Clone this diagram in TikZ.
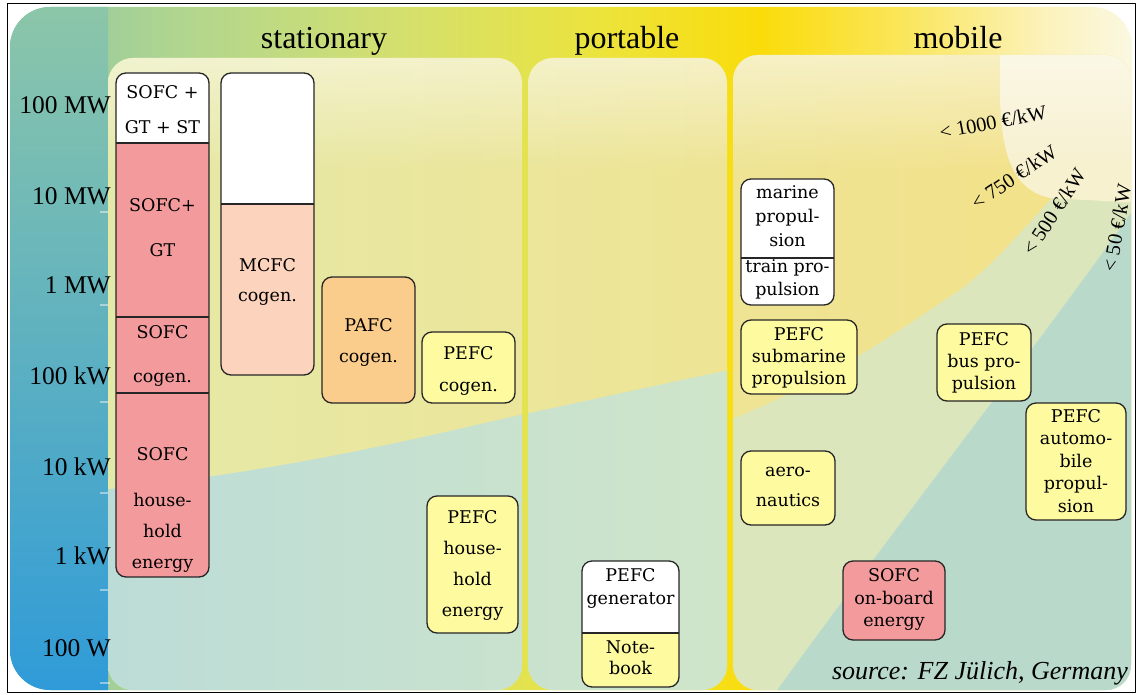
\documentclass[tikz,border=0pt]{standalone}
\usepackage{fontspec}
\setmainfont{Liberation Serif}
\newfontfamily\cellfont{DejaVu Serif}
\usetikzlibrary{positioning}
\usetikzlibrary{fadings}

\definecolor{sofcred}{HTML}{F39A9C}
\definecolor{mcfcpink}{HTML}{FCD3BC}
\definecolor{pafcorange}{HTML}{FBCD8C}
\definecolor{pefcyellow}{HTML}{FDFA9F}
\definecolor{bandA}{HTML}{8FC7A6}
\definecolor{bandB}{HTML}{B4D78C}
\definecolor{bandC}{HTML}{D4E06E}
\definecolor{bandD}{HTML}{ECE43C}
\definecolor{bandE}{HTML}{FADC0A}
\definecolor{bandF}{HTML}{FAE65A}
\definecolor{bandG}{HTML}{FCF2BE}
\definecolor{bandH}{HTML}{FAF8E1}
\definecolor{stripA}{HTML}{8CC6A9}
\definecolor{stripB}{HTML}{5FB2C9}
\definecolor{stripC}{HTML}{2F9BD8}
\definecolor{panelA}{HTML}{E5E9A8}
\definecolor{panelB}{HTML}{F4E187}
\definecolor{lowA}{HTML}{BCDCD7}
\definecolor{lowB}{HTML}{CFE5CA}
\definecolor{midgreen}{HTML}{DCE6BD}
\definecolor{bluegreen}{HTML}{B9D9CB}
\definecolor{cream}{HTML}{F7F1CF}

\pgfdeclarehorizontalshading{topband}{100bp}{color(0bp)=(bandA); color(25bp)=(bandA);
  color(33.5bp)=(bandB); color(42.4bp)=(bandC); color(51.3bp)=(bandD); color(58.4bp)=(bandE);
  color(64.7bp)=(bandF); color(71.3bp)=(bandG); color(75bp)=(bandH); color(100bp)=(bandH)}

\tikzset{
  cell/.style={draw=black!85, line width=1.3pt, rounded corners=10},
  celltxt/.style={font=\cellfont\fontsize{17.5}{#1}\selectfont, align=center, inner sep=0pt},
  axislbl/.style={font=\fontsize{25.5}{26}\selectfont, anchor=east, inner sep=0pt},
  head/.style={font=\fontsize{32}{32}\selectfont, anchor=base, inner sep=0pt},
  cost/.style={font=\fontsize{20.5}{21}\selectfont, inner sep=0pt},
}

\begin{document}
\begin{tikzpicture}[x=1pt, y=-1pt, line join=round]
            \useasboundingbox (0,0) rectangle (1137,695);

            % frame and coloured ground
            \draw[line width=1.5pt] (7.5,3.5) rectangle (1135.5,692.5);
            \shade[shading=topband, rounded corners=40] (10,7) rectangle (1132,690);
            \begin{scope}
              \clip[rounded corners=40] (10,7) rectangle (1132,690);
              \shade[top color=stripA, middle color=stripB, bottom color=stripC] (10,7) rectangle (108,690);
            \end{scope}
            \foreach \ty in {212,305,402,493,590,683}
              \draw[white, opacity=.45, line width=2pt] (100,\ty) -- (110,\ty);

            % the three panels
            \begin{scope}
              \clip[rounded corners=25] (108,58) rectangle (522,690) (528,58) rectangle (727,690) (733,55) rectangle (1131,690);
              \shade[left color=panelA, right color=panelB] (100,50) rectangle (1140,700);
              \shade[left color=lowA, right color=lowB] (100,490) .. controls (300,470) and (450,430) .. (525,414)
                .. controls (600,398) and (680,380) .. (730,370) -- (730,700) -- (100,700) -- cycle;
              \fill[midgreen] (730,420) .. controls (830,380) and (900,330) .. (960,290)
                .. controls (1000,260) and (1030,220) .. (1060,190) -- (1140,190) -- (1140,700) -- (730,700) -- cycle;
              \fill[bluegreen] (1140,200) .. controls (1050,330) and (900,520) .. (770,700) -- (1140,700) -- cycle;
              \fill[cream] (1000,50) -- (1000,100) .. controls (1002,160) and (1015,190) .. (1050,198) -- (1140,203) -- (1140,50) -- cycle;
              \fill[white, opacity=.5, path fading=south] (100,50) rectangle (1140,170);
            \end{scope}

            % headings
            \node[head] (stat) at (324,49) {stationary};
            \node[head] (port) at (627,49) {portable};
            \node[head] (mob) at (958,49) {mobile};

            % power scale
            \node[axislbl] (p100mw) at (111,105) {100 MW};
            \node[axislbl] (p10mw) at (111,196) {10 MW};
            \node[axislbl] (p1mw) at (111,285) {1 MW};
            \node[axislbl] (p100kw) at (111,376) {100 kW};
            \node[axislbl] (p10kw) at (111,467) {10 kW};
            \node[axislbl] (p1kw) at (111,556) {1 kW};
            \node[axislbl] (p100w) at (111,648) {100 W};

            % SOFC column
            \begin{scope}
              \clip[rounded corners=10] (116,73) rectangle (209,577);
              \fill[sofcred] (116,73) rectangle (209,577);
              \fill[white] (116,73) rectangle (209,143);
            \end{scope}
            \draw[cell] (116,73) rectangle (209,577);
            \draw[black!85, line width=1.3pt] (116,143) -- (209,143) (116,317) -- (209,317) (116,393) -- (209,393);
            \node[celltxt=35] (sofcst) at (162.5,109.5) {SOFC +\\GT + ST};
            \node[celltxt=45] (sofcgt) at (162.5,227.5) {SOFC+\\GT};
            \node[celltxt=44] (sofccogen) at (162.5,356) {SOFC\\cogen.};
            \node[celltxt=31] (sofchouse) at (162.5,510) {SOFC\\[15pt]house-\\hold\\energy};

            % MCFC
            \begin{scope}
              \clip[rounded corners=10] (221,73) rectangle (314,375);
              \fill[mcfcpink] (221,73) rectangle (314,375);
              \fill[white] (221,73) rectangle (314,204);
            \end{scope}
            \draw[cell] (221,73) rectangle (314,375);
            \draw[black!85, line width=1.3pt] (221,204) -- (314,204);
            \node[celltxt=30] (mcfc) at (267.5,282) {MCFC\\cogen.};

            % PAFC and PEFC (stationary)
            \draw[cell, fill=pafcorange] (322,277) rectangle (415,403);
            \node[celltxt=31] (pafc) at (368.5,342.5) {PAFC\\cogen.};
            \draw[cell, fill=pefcyellow] (422,332) rectangle (515,403);
            \node[celltxt=32] (pefccogen) at (468.5,371) {PEFC\\cogen.};
            \draw[cell, fill=pefcyellow] (427,496) rectangle (518,633);
            \node[celltxt=31] (pefchouse) at (472.5,565.5) {PEFC\\house-\\hold\\energy};

            % portable
            \begin{scope}
              \clip[rounded corners=10] (582,561) rectangle (679,687);
              \fill[pefcyellow] (582,561) rectangle (679,687);
              \fill[white] (582,561) rectangle (679,633);
            \end{scope}
            \draw[cell] (582,561) rectangle (679,687);
            \draw[black!85, line width=1.3pt] (582,633) -- (679,633);
            \node[celltxt=23] (pefcgen) at (630.5,588.5) {PEFC\\generator};
            \node[celltxt=21] (notebook) at (630.5,657.5) {Note-\\book};

            % mobile
            \draw[cell, fill=white] (741,179) rectangle (834,305);
            \draw[black!85, line width=1.3pt] (741,258) -- (834,258);
            \node[celltxt=24] (marine) at (787.5,216) {marine\\propul-\\sion};
            \node[celltxt=23] (train) at (787.5,279.5) {train pro-\\pulsion};
            \draw[cell, fill=pefcyellow] (741,320) rectangle (857,394);
            \node[celltxt=22] (submarine) at (799,358) {PEFC\\submarine\\propulsion};
            \draw[cell, fill=pefcyellow] (741,451) rectangle (835,525);
            \node[celltxt=30] (aero) at (788,487) {aero-\\nautics};
            \draw[cell, fill=sofcred] (843,561) rectangle (945,640);
            \node[celltxt=22.5] (onboard) at (894,599.5) {SOFC\\on-board\\energy};
            \draw[cell, fill=pefcyellow] (937,324) rectangle (1031,401);
            \node[celltxt=22] (bus) at (984,363) {PEFC\\bus pro-\\pulsion};
            \draw[cell, fill=pefcyellow] (1026,403) rectangle (1126,520);
            \node[celltxt=22.5] (auto) at (1076,461) {PEFC\\automo-\\bile\\propul-\\sion};

            % cost targets
            \node[cost, rotate=11] (c1000) at (993,122) {< 1000 €/kW};
            \node[cost, rotate=34] (c750) at (1014,177) {< 750 €/kW};
            \node[cost, rotate=57] (c500) at (1054,212) {< 500 €/kW};
            \node[cost, rotate=80] (c50) at (1117,228) {< 50 €/kW};

            % source
            \node[font=\fontsize{26}{26}\selectfont\itshape, anchor=base east, inner sep=0pt] (src) at (1128,679) {source: FZ Jülich, Germany};
\end{tikzpicture}
\end{document}
